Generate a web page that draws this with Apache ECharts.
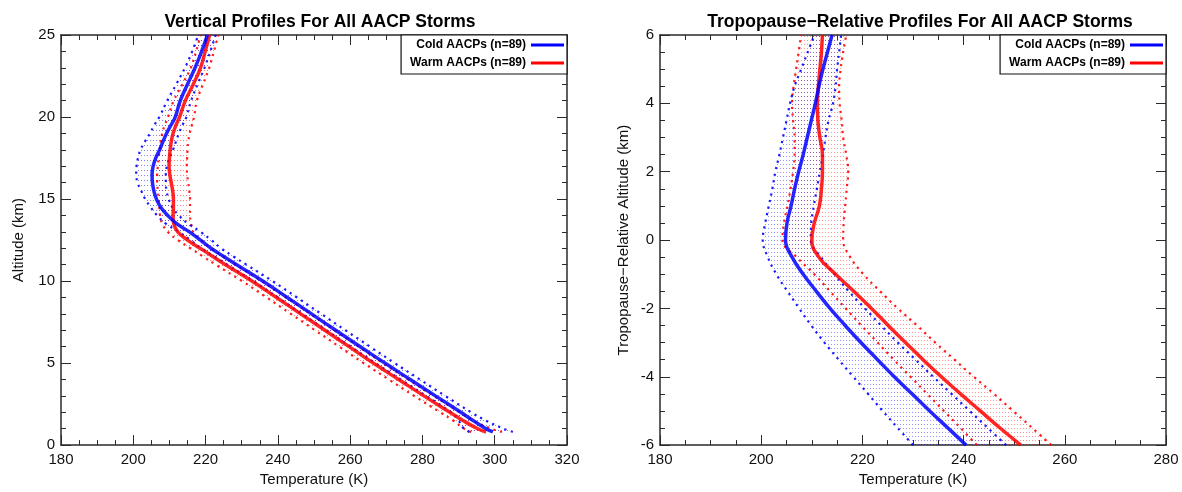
<!DOCTYPE html>
<html>
<head>
<meta charset="utf-8">
<script src="https://cdn.jsdelivr.net/npm/echarts@6/dist/echarts.min.js"></script>
<style>
html,body{margin:0;padding:0;background:#fff;}
#chart{width:1182px;height:492px;}
</style>
</head>
<body>
<div id="chart"></div>
<script>
// ---------- DATA ----------
const titleLeft = 'Vertical Profiles For All AACP Storms';
const titleRight = 'Tropopause\u2212Relative Profiles For All AACP Storms';
const coldName = 'Cold AACPs (n=89)';
const warmName = 'Warm AACPs (n=89)';

// Left panel: altitude (km)
const altL = [0.8, 1, 1.5, 2, 3, 4, 5, 6, 7, 8, 9, 10, 11, 11.5, 12, 12.5, 13, 13.5, 14, 14.5, 15, 15.5, 16, 16.5, 17, 17.5, 18, 18.5, 19, 19.5, 20, 21, 22, 23, 24, 25];
const coldMeanL = [299.5, 297.6, 294.0, 290.6, 283.6, 276.6, 269.6, 262.8, 256.0, 249.3, 242.6, 235.8, 228.6, 225.0, 221.5, 218.6, 215.5, 212.0, 209.5, 207.6, 206.4, 205.7, 205.3, 205.2, 205.5, 206.2, 207.3, 208.2, 209.2, 210.4, 211.6, 213.0, 215.0, 217.1, 218.9, 220.5];
const coldLoL   = [293.0, 291.5, 290.0, 287.9, 281.0, 274.0, 267.0, 260.2, 253.4, 246.7, 240.0, 233.2, 226.0, 222.4, 218.8, 215.8, 212.6, 209.0, 206.6, 204.8, 203.3, 202.2, 201.2, 200.8, 200.9, 201.3, 202.0, 203.2, 204.6, 205.8, 207.2, 209.4, 211.9, 214.3, 216.3, 218.0];
const coldHiL   = [305.0, 302.5, 297.5, 293.5, 286.3, 279.3, 272.3, 265.5, 258.7, 252.0, 245.3, 238.5, 231.3, 227.7, 224.3, 221.6, 218.6, 215.2, 212.6, 210.8, 209.8, 209.2, 209.0, 209.0, 209.3, 210.0, 211.0, 211.8, 212.6, 213.6, 214.7, 216.0, 217.8, 219.7, 221.3, 222.8];
const warmMeanL = [297.6, 295.3, 291.2, 287.6, 280.4, 273.4, 266.4, 259.7, 253.0, 246.3, 239.6, 232.8, 225.5, 222.0, 218.5, 215.0, 212.3, 211.2, 211.0, 211.1, 211.1, 210.9, 210.5, 210.1, 209.9, 210.0, 210.2, 210.5, 211.0, 211.8, 212.8, 214.4, 216.6, 218.6, 219.9, 221.1];
const warmLoL   = [293.5, 291.5, 288.5, 284.9, 277.7, 270.7, 263.7, 257.0, 250.3, 243.6, 236.9, 230.1, 222.8, 219.3, 215.8, 212.3, 209.5, 208.0, 207.4, 207.2, 207.0, 206.8, 206.6, 206.6, 206.8, 207.0, 207.3, 207.6, 208.0, 208.7, 209.6, 211.2, 213.6, 215.9, 217.4, 218.6];
const warmHiL   = [302.0, 299.0, 294.0, 290.3, 283.1, 276.1, 269.1, 262.4, 255.7, 249.0, 242.3, 235.5, 228.3, 224.8, 221.5, 218.8, 216.5, 216.0, 215.7, 215.7, 215.7, 215.5, 215.2, 214.9, 214.8, 214.9, 215.0, 215.2, 215.6, 216.2, 216.8, 217.6, 219.3, 221.0, 222.3, 223.5];

// Right panel: tropopause-relative altitude (km)
const altR = [-6, -5.5, -5, -4.5, -4, -3.5, -3, -2.5, -2, -1.5, -1, -0.5, 0, 0.5, 1, 1.5, 2, 2.5, 3, 3.5, 4, 4.5, 5, 5.5, 6];
const coldMeanR = [240.5, 236.9, 233.3, 229.8, 226.3, 223.0, 219.7, 216.6, 213.6, 210.9, 208.3, 206.1, 204.8, 205.1, 205.9, 206.6, 207.4, 208.3, 209.1, 209.9, 210.7, 211.4, 212.2, 213.1, 214.0];
const coldLoR   = [230.0, 227.0, 224.0, 221.1, 218.2, 215.3, 212.5, 209.9, 207.5, 205.2, 203.0, 201.3, 200.3, 200.8, 201.5, 202.2, 202.8, 203.6, 204.3, 205.0, 205.7, 206.6, 207.9, 209.2, 210.5];
const coldHiR   = [248.4, 244.8, 241.2, 237.6, 234.0, 230.5, 227.0, 223.7, 220.5, 217.3, 214.5, 211.8, 209.8, 209.9, 210.4, 211.0, 211.6, 212.2, 212.7, 213.3, 214.2, 214.7, 215.0, 215.4, 215.8];
const warmMeanR = [251.3, 247.2, 243.3, 239.4, 235.6, 232.0, 228.5, 225.1, 221.8, 218.3, 214.7, 211.4, 210.0, 210.5, 211.5, 211.9, 212.1, 212.1, 211.6, 211.2, 211.1, 211.3, 211.6, 211.9, 212.1];
const warmLoR   = [242.6, 239.4, 236.1, 232.8, 229.5, 226.2, 223.0, 219.8, 216.7, 213.6, 210.5, 207.0, 204.2, 204.5, 205.2, 205.8, 206.3, 206.6, 206.6, 206.3, 206.1, 206.4, 206.9, 207.4, 207.9];
const warmHiR   = [257.3, 253.6, 249.8, 246.0, 242.0, 238.2, 234.4, 230.8, 227.0, 223.5, 220.2, 217.6, 216.2, 216.3, 216.6, 216.9, 217.2, 216.8, 216.2, 215.9, 215.5, 215.4, 215.7, 216.2, 216.8];

// Axis settings
const xLeft = {min: 180, max: 320, interval: 20};
const yLeft = {min: 0, max: 25, interval: 5};
const xRight = {min: 180, max: 280, interval: 20};
const yRight = {min: -6, max: 6, interval: 2};

// ---------- STYLE ----------
const BLUE = '#0000ff';
const RED = '#ff0000';
const FONT = 'Liberation Sans, Arial, Helvetica, sans-serif';
const FRAME = '#2a2a2a';

function dotPattern(color, w, h) {
  const c = document.createElement('canvas');
  c.width = w; c.height = h;
  const ctx = c.getContext('2d');
  ctx.fillStyle = color;
  ctx.fillRect(0, 0, 1, 1);
  return {image: c, repeat: 'repeat'};
}
const patBlueL = dotPattern('rgba(0,0,255,0.5)', 3, 5);
const patRedL = dotPattern('rgba(255,0,0,0.5)', 3, 5);
const patBlueR = dotPattern('rgba(0,0,255,0.42)', 3, 4);
const patRedR = dotPattern('rgba(255,0,0,0.42)', 3, 4);

const gridL = {left: 61, top: 35, width: 506, height: 411};
const gridR = {left: 660, top: 35, width: 506, height: 411};

function xAxisDef(gi, r, pos, showLabel, name) {
  return {
    type: 'value', gridIndex: gi, position: pos, min: r.min, max: r.max, interval: r.interval,
    name: name || '', nameLocation: 'middle', nameGap: 26,
    nameTextStyle: {fontFamily: FONT, fontSize: 15, color: '#111'},
    axisLine: {show: true, onZero: false, lineStyle: {color: FRAME, width: 1.5}},
    axisTick: {show: true, inside: true, length: 10, lineStyle: {color: FRAME, width: 1}},
    minorTick: {show: true, splitNumber: 4, length: 5, lineStyle: {color: FRAME, width: 1}},
    axisLabel: {show: showLabel, margin: 7, fontFamily: FONT, fontSize: 15, color: '#111'},
    splitLine: {show: false}, minorSplitLine: {show: false}
  };
}
function yAxisDef(gi, r, pos, showLabel, name, minorSplit, nameGap) {
  return {
    type: 'value', gridIndex: gi, position: pos, min: r.min, max: r.max, interval: r.interval,
    name: name || '', nameLocation: 'middle', nameRotate: 90, nameGap: nameGap || 40,
    nameTextStyle: {fontFamily: FONT, fontSize: 15, color: '#111'},
    axisLine: {show: true, onZero: false, lineStyle: {color: FRAME, width: 1.5}},
    axisTick: {show: true, inside: true, length: 10, lineStyle: {color: FRAME, width: 1}},
    minorTick: {show: true, splitNumber: minorSplit, length: 5, lineStyle: {color: FRAME, width: 1}},
    axisLabel: {show: showLabel, margin: 6, fontFamily: FONT, fontSize: 15, color: '#111'},
    splitLine: {show: false}, minorSplitLine: {show: false}
  };
}

function pairs(xs, ys) { return ys.map((y, i) => [xs[i], y]); }

function band(name, alt, lo, hi, xi, yi, pat) {
  return {
    type: 'custom', name: name, xAxisIndex: xi, yAxisIndex: yi, silent: true, z: 1,
    data: [[lo[0], alt[0]]], encode: {x: 0, y: 1},
    renderItem: function (params, api) {
      const pts = [];
      for (let i = 0; i < alt.length; i++) pts.push(api.coord([lo[i], alt[i]]));
      for (let i = alt.length - 1; i >= 0; i--) pts.push(api.coord([hi[i], alt[i]]));
      return {type: 'polygon', shape: {points: pts, smooth: 0.2}, style: {fill: pat, stroke: null}};
    }
  };
}
function bound(name, alt, vals, xi, yi, color) {
  return {
    type: 'line', name: name, xAxisIndex: xi, yAxisIndex: yi, silent: true, z: 3,
    data: pairs(vals, alt), showSymbol: false, symbol: 'none', smooth: 0.4,
    lineStyle: {color: color, width: 2.2, type: [2.2, 4.5], cap: 'butt', opacity: 0.9}
  };
}
function meanLine(name, alt, vals, xi, yi, color, z) {
  return {
    type: 'line', name: name, xAxisIndex: xi, yAxisIndex: yi, z: z,
    data: pairs(vals, alt), showSymbol: false, symbol: 'none', smooth: 0.45,
    itemStyle: {color: color},
    lineStyle: {color: color, width: 3.5, opacity: 0.85}
  };
}

const legendCommon = {
  orient: 'vertical', align: 'right', icon: 'rect', itemWidth: 33, itemHeight: 3, itemGap: 4,
  itemStyle: {opacity: 1},
  top: 35, padding: [3, 3, 4, 9], borderColor: '#111', borderWidth: 1.2, backgroundColor: '#fff',
  selectedMode: false,
  textStyle: {fontFamily: FONT, fontSize: 12, fontWeight: 'bold', color: '#000', lineHeight: 14}
};

const option = {
  animation: false,
  backgroundColor: '#ffffff',
  title: [
    {text: titleLeft, left: 315, top: 8, textAlign: 'center',
     textStyle: {fontFamily: FONT, fontSize: 17.5, fontWeight: 'bold', color: '#000'}},
    {text: titleRight, left: 915, top: 8, textAlign: 'center',
     textStyle: {fontFamily: FONT, fontSize: 17.5, fontWeight: 'bold', color: '#000'}}
  ],
  legend: [
    Object.assign({}, legendCommon, {right: 1182 - 567, data: [coldName, warmName]}),
    Object.assign({}, legendCommon, {right: 1182 - 1166, data: [coldName, warmName]})
  ],
  grid: [gridL, gridR],
  xAxis: [
    xAxisDef(0, xLeft, 'bottom', true, 'Temperature (K)'),
    xAxisDef(0, xLeft, 'top', false),
    xAxisDef(1, xRight, 'bottom', true, 'Temperature (K)'),
    xAxisDef(1, xRight, 'top', false)
  ],
  yAxis: [
    yAxisDef(0, yLeft, 'left', true, 'Altitude (km)', 5, 35),
    yAxisDef(0, yLeft, 'right', false, '', 5),
    yAxisDef(1, yRight, 'left', true, 'Tropopause\u2212Relative Altitude (km)', 4, 29),
    yAxisDef(1, yRight, 'right', false, '', 4)
  ],
  series: [
    // left panel
    band('warmBandL', altL, warmLoL, warmHiL, 0, 0, patRedL),
    band('coldBandL', altL, coldLoL, coldHiL, 0, 0, patBlueL),
    bound('warmLoL', altL, warmLoL, 0, 0, RED),
    bound('warmHiL', altL, warmHiL, 0, 0, RED),
    bound('coldLoL', altL, coldLoL, 0, 0, BLUE),
    bound('coldHiL', altL, coldHiL, 0, 0, BLUE),
    meanLine(warmName, altL, warmMeanL, 0, 0, RED, 5),
    meanLine(coldName, altL, coldMeanL, 0, 0, BLUE, 6),
    // right panel
    band('warmBandR', altR, warmLoR, warmHiR, 2, 2, patRedR),
    band('coldBandR', altR, coldLoR, coldHiR, 2, 2, patBlueR),
    bound('warmLoR', altR, warmLoR, 2, 2, RED),
    bound('warmHiR', altR, warmHiR, 2, 2, RED),
    bound('coldLoR', altR, coldLoR, 2, 2, BLUE),
    bound('coldHiR', altR, coldHiR, 2, 2, BLUE),
    meanLine(warmName, altR, warmMeanR, 2, 2, RED, 5),
    meanLine(coldName, altR, coldMeanR, 2, 2, BLUE, 6)
  ]
};

const chart = echarts.init(document.getElementById('chart'), null, {renderer: 'canvas'});
chart.setOption(option);
</script>
</body>
</html>
